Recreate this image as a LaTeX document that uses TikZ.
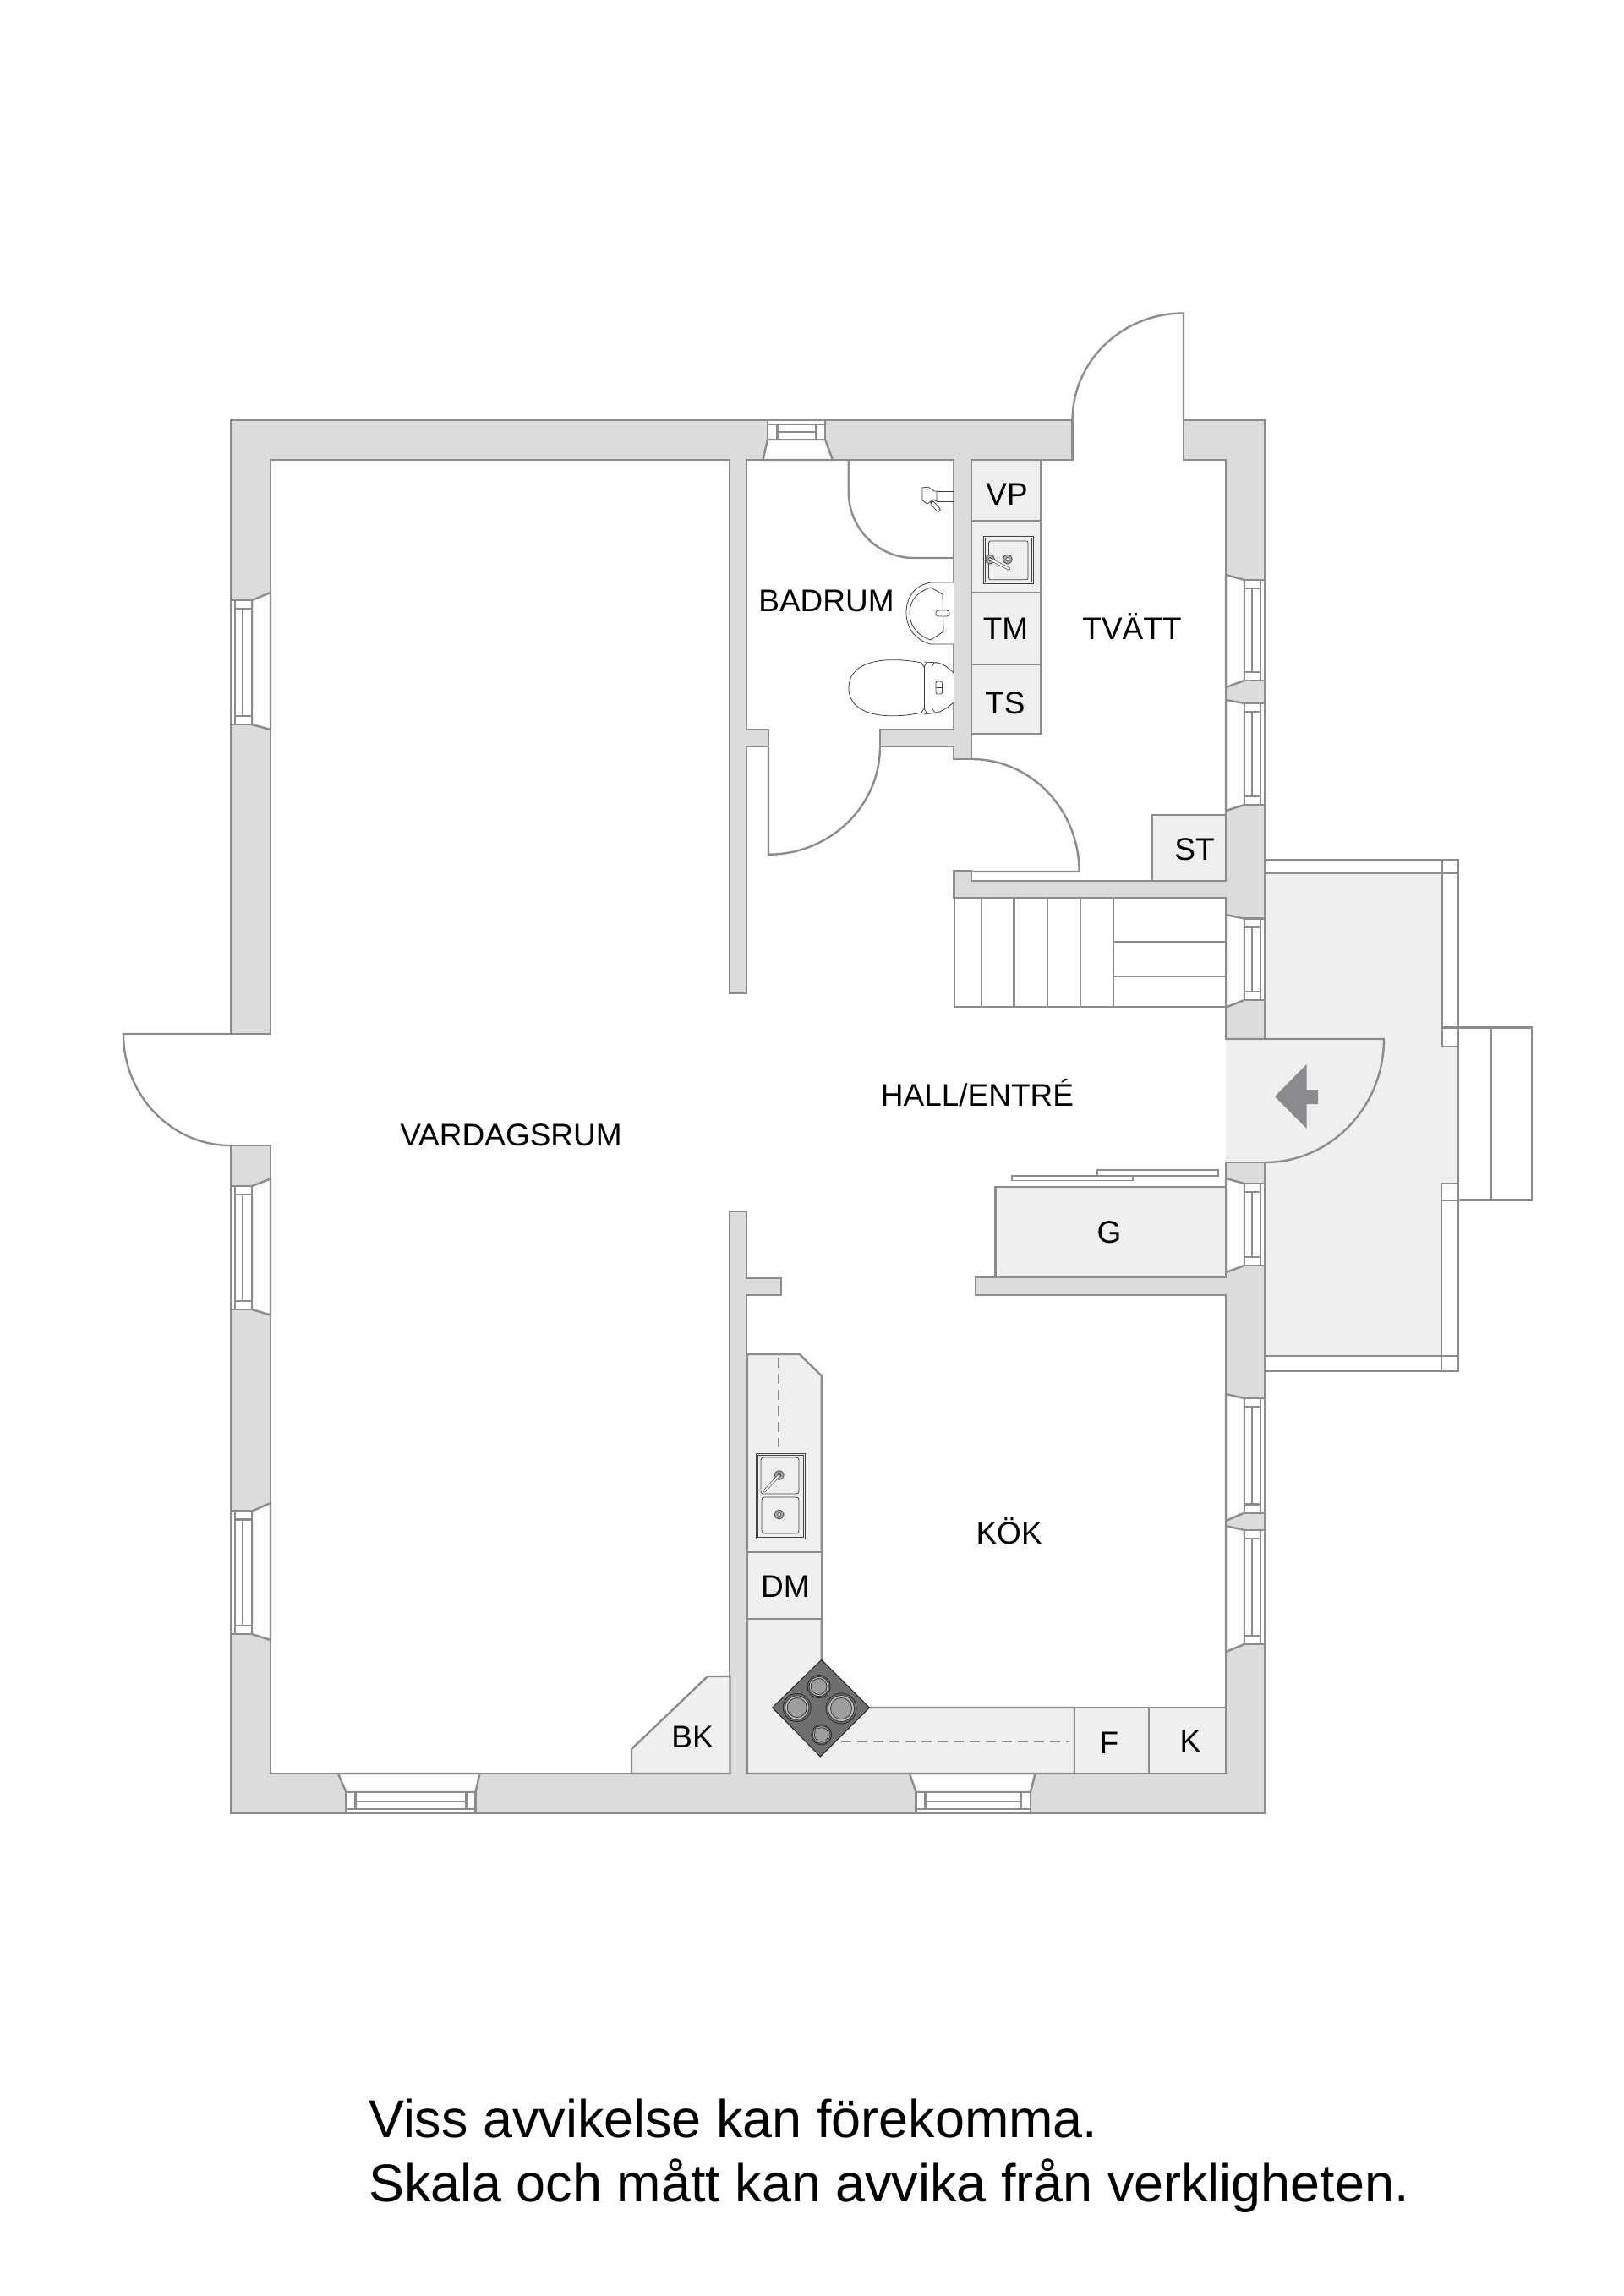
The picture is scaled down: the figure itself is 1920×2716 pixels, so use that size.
\documentclass[tikz,border=0pt]{standalone}
\usepackage{fontspec}
\setmainfont{Liberation Sans}
\definecolor{wallc}{HTML}{DCDCDC}
\definecolor{lightc}{HTML}{EFEFEF}
\definecolor{linec}{HTML}{8C8C8C}
\definecolor{arrowc}{HTML}{8A8A90}
\definecolor{hobc}{HTML}{6F6F6F}
\tikzset{
  wall/.style={fill=wallc,draw=linec,line width=2.6pt,line join=miter},
  unitbox/.style={fill=lightc,draw=linec,line width=2.4pt},
  opening/.style={fill=white,draw=linec,line width=2.4pt},
  plainline/.style={draw=linec,line width=2.4pt},
  doorline/.style={draw=linec,line width=2.4pt,line cap=round},
  fixture/.style={draw=black!75,line width=0.8pt,fill=white},
  dashline/.style={draw=linec,line width=2.6pt,dash pattern=on 12pt off 7pt},
  roomtext/.style={anchor=base,inner sep=0pt,font=\fontsize{37}{40}\selectfont,text=black},
  notetext/.style={anchor=base west,inner sep=0pt,font=\fontsize{62.9}{70}\selectfont,text=black}
}
\newcommand{\winL}[4]{%
  \path[opening] (320,#3)--(298,#1)--(298,#2)--(320,#4)--cycle;
  \path[opening] (273,#1) rectangle (298,#2);
  \path[plainline] (278,#1)--(278,#2);
  \path[plainline] (278,{#1+10}) rectangle (298,{#2-10});
  \path[plainline] (287,{#1+10})--(287,{#2-10});
}
\newcommand{\winR}[4]{%
  \path[opening] (1450,#3)--(1472,#1)--(1472,#2)--(1450,#4)--cycle;
  \path[opening] (1472,#1) rectangle (1496,#2);
  \path[plainline] (1491,#1)--(1491,#2);
  \path[plainline] (1472,{#1+10}) rectangle (1491,{#2-10});
  \path[plainline] (1481,{#1+10})--(1481,{#2-10});
}
\newcommand{\winB}[4]{%
  \path[opening] (#3,2098)--(#1,2120)--(#2,2120)--(#4,2098)--cycle;
  \path[opening] (#1,2120) rectangle (#2,2145);
  \path[plainline] (#1,2140)--(#2,2140);
  \path[plainline] ({#1+11},2120)--({#1+11},2140);
  \path[plainline] ({#2-11},2120)--({#2-11},2140);
  \path[plainline] ({#1+11},2131)--({#2-11},2131);
}
\newcommand{\burner}[3]{%
  \path[draw=black!80,line width=1pt,fill=hobc] (#1,#2) circle[radius=#3];
  \path[draw=black!80,line width=0.8pt,fill=black!25] (#1,#2) circle[radius={#3*0.86}];
  \path[draw=black!80,line width=0.8pt,fill=black!38] (#1,#2) circle[radius={#3*0.7}];
}
\newcommand{\drain}[2]{%
  \path[draw=black!70,line width=0.8pt,fill=black!35] (#1,#2) circle[radius=5.5];
  \path[draw=black!70,line width=0.7pt,fill=white] (#1,#2) circle[radius=2];
}
\begin{document}
\begin{tikzpicture}[x=1pt,y=-1pt]
\useasboundingbox[fill=white] (0,0) rectangle (1920,2716);

% --- deck and steps
\path[unitbox] (1496,1033)--(1706,1033)--(1706,1238)--(1725,1238)--(1725,1400)--(1705,1400)--(1705,1604)--(1496,1604)--cycle;
\path[opening] (1496,1017) rectangle (1725,1033);
\path[opening] (1706,1017) rectangle (1725,1215.6);
\path[plainline] (1706,1033)--(1725,1033);
\path[opening] (1706,1215.6) rectangle (1725,1238);
\path[opening] (1705,1400) rectangle (1725,1420);
\path[opening] (1705,1420) rectangle (1725,1622);
\path[opening] (1496,1604) rectangle (1725,1622);
\path[plainline] (1705,1604)--(1705,1622);
\path[opening] (1725,1215.6) rectangle (1812,1419.6);
\path[plainline] (1764,1215.6)--(1764,1419.6);

% --- walls
\path[wall] (273,1223)--(273,497)--(1268.6,497)--(1268.6,544)--(1149,544)--(1149,898)--(1128,898)--(1128,883)--(1041,883)--(1041,863)--(1128,863)--(1128,544)--(883,544)--(883,863)--(909,863)--(909,883)--(883,883)--(883,1175)--(863,1175)--(863,544)--(320,544)--(320,1223)--cycle;
\path[wall] (1400,497)--(1496,497)--(1496,1229)--(1450,1229)--(1450,1062)--(1128.7,1062)--(1128.7,1030)--(1149,1030)--(1149,1042)--(1450,1042)--(1450,544)--(1400,544)--cycle;
\path[wall] (1496,1375)--(1496,2145)--(273,2145)--(273,1355)--(320,1355)--(320,2098)--(863,2098)--(863,1433)--(883,1433)--(883,1512)--(924,1512)--(924,1532)--(883,1532)--(883,2098)--(1450,2098)--(1450,1532)--(1154,1532)--(1154,1511)--(1450,1511)--(1450,1375)--cycle;

% --- entrance threshold and door
\path[fill=lightc] (1450,1229) rectangle (1497,1375);
\path[doorline] (1450,1229)--(1637,1229) .. controls (1637,1309.6) and (1573.9,1375) .. (1496,1375);
\path[plainline] (1450,1375)--(1496,1375);
\path[fill=arrowc] (1508,1297)--(1545.5,1259)--(1545.5,1289)--(1559,1289)--(1559,1306)--(1545.5,1306)--(1545.5,1335)--cycle;

% --- other doors
\path[doorline] (1268.6,497) .. controls (1268.6,427.1) and (1327.4,370.5) .. (1400,370.5)--(1400,497);
\path[doorline] (909,883)--(909,1010.7) .. controls (981.9,1010.7) and (1041,953.5) .. (1041,883);
\path[doorline] (1149,898) .. controls (1219.5,898) and (1276.6,957.5) .. (1276.6,1031)--(1149,1031);
\path[doorline] (273,1223)--(146,1223) .. controls (146,1296) and (202.9,1355) .. (273,1355);
\path[doorline] (1003.8,544)--(1003.8,582) .. controls (1003.8,625) and (1038.4,660) .. (1081,660)--(1128,660);

% --- windows
\winL{710}{857}{701}{863}
\winL{1403}{1549}{1394.6}{1555.5}
\winL{1787.6}{1933}{1778}{1940}
\winR{686}{805}{680}{813}
\winR{832}{952}{828}{959}
\winR{1086.6}{1183}{1082}{1191.5}
\winR{1400}{1497}{1394}{1505}
\winR{1654}{1789.5}{1649}{1799}
\winR{1810}{1945}{1805}{1954}
\winB{409.4}{562.5}{400}{567.6}
\winB{1083.5}{1219}{1076}{1224.5}
\path[opening] (902.5,544)--(908,520)--(976,520)--(985,544)--cycle;
\path[opening] (908,497) rectangle (976,520);
\path[plainline] (908,502)--(976,502);
\path[plainline] (919.5,502)--(919.5,520);
\path[plainline] (965,502)--(965,520);
\path[plainline] (919.5,510.7)--(965,510.7);

% --- stairs
\path[opening] (1128.7,1062) rectangle (1450,1191);
\foreach \sx in {1160.8,1199.5,1238.8,1278,1317}{\path[plainline] (\sx,1062)--(\sx,1191);}
\path[plainline] (1317,1113.8)--(1450,1113.8);
\path[plainline] (1317,1155)--(1450,1155);

% --- laundry units
\path[unitbox] (1149,544) rectangle (1231.5,616.5);
\path[unitbox] (1149,616.5) rectangle (1231.5,701);
\path[unitbox] (1149,701) rectangle (1231.5,786);
\path[unitbox] (1149,786) rectangle (1231.5,868);
\path[unitbox] (1363,964) rectangle (1450,1042);
\path[fixture,fill=lightc] (1163.7,634.8) rectangle (1222.6,690);
\path[fixture,fill=lightc] (1165.5,636.5) rectangle (1220.8,688.3);
\path[fixture,fill=lightc,rounded corners=2pt] (1169.5,640) rectangle (1216,685.7);
\drain{1171}{661.6}
\drain{1191.8}{661.6}
\path[draw=black!70,line width=0.7pt,double=white,double distance=2pt,line cap=round] (1171,661.6)--(1193.6,672.8);

% --- wardrobe and sliding doors
\path[unitbox] (1177.5,1404) rectangle (1450,1511);
\path[fill=white,draw=linec,line width=1.8pt] (1197,1390.6) rectangle (1340,1396.4);
\path[fill=white,draw=linec,line width=1.8pt] (1297.6,1384) rectangle (1440.7,1390.6);

% --- kitchen
\path[unitbox] (884,1602)--(945.8,1602)--(971.7,1627.4)--(971.7,2020)--(1271,2020)--(1271,2098)--(884,2098)--cycle;
\path[unitbox] (884,1836) rectangle (971.7,1915);
\path[unitbox] (1271,2020) rectangle (1359,2098);
\path[unitbox] (1359,2020) rectangle (1450,2098);
\path[dashline] (920.8,1606)--(920.8,1712);
\path[dashline] (995,2060)--(1264,2060);
\path[fixture,fill=lightc] (894,1719) rectangle (952.5,1820);
\path[fixture,fill=lightc] (896,1721) rectangle (950.5,1818);
\path[fixture,fill=lightc,rounded corners=3pt] (900,1724) rectangle (945,1767);
\path[fixture,fill=lightc,rounded corners=3pt] (901,1771) rectangle (945,1814);
\drain{921.7}{1745}
\drain{921.7}{1791.5}
\path[draw=black!70,line width=0.7pt,double=white,double distance=2pt,line cap=round] (921.7,1745)--(904,1764);
\path[fill=hobc,draw=black!85,line width=1pt] (971.7,1963.4)--(1028.4,2020)--(970.4,2078)--(913.7,2020)--cycle;
\burner{968.6}{1995}{13.5}
\burner{942.7}{2020}{16.5}
\burner{995}{2021}{18}
\burner{971.7}{2052}{12}

% --- firewood box
\path[unitbox] (747,2098)--(747,2069)--(837,1983)--(863.5,1983)--(863.5,2098)--cycle;

% --- bathroom fixtures
\path[fixture] (1128,689)--(1101,689) .. controls (1080,693) and (1072,708) .. (1072,725) .. controls (1072,742) and (1082,757) .. (1101,762)--(1128,762);
\path[fixture] (1101,695)--(1115,703)--(1116,747)--(1101,757) .. controls (1085,752) and (1076,740) .. (1076,725) .. controls (1076,710) and (1085,700) .. (1101,695)--cycle;
\path[fixture,rounded corners=3pt] (1107,722) rectangle (1123,729);
\path[fixture] (1090,784) .. controls (1060,778) and (1004,776) .. (1004,814) .. controls (1004,851) and (1060,850) .. (1090,843);
\path[fixture] (1093,783)--(1110,784);
\path[fixture] (1093,845)--(1108,843);
\path[fixture] (1093,784)--(1093,844);
\path[fixture] (1090,784)--(1093,789)--(1096,784);
\path[fixture] (1090,843)--(1093,838)--(1096,843);
\path[fixture] (1128,796) .. controls (1118,786) and (1110,783) .. (1105,784)--(1102.5,788)--(1102.5,838)--(1106,843) .. controls (1112,843) and (1120,838) .. (1128,831);
\path[fixture,rounded corners=2pt] (1107,806) rectangle (1114.5,821);
\path[fixture] (1107,813.5)--(1114.5,813.5);
\path[fixture] (1108,581)--(1128,581);
\path[fixture] (1108,593)--(1128,593);
\path[draw=black!75,line width=0.9pt,double=white,double distance=3.5pt,line cap=round] (1103,595)--(1110,603);
\path[fixture] (1091,577)--(1098,576)--(1105,581)--(1108,581)--(1108,593)--(1104,591)--(1097,596)--(1091,592)--cycle;

% --- labels
\node[roomtext] (vp) at (1191,597) {VP};
\node[roomtext] (tm) at (1189.5,756) {TM};
\node[roomtext] (ts) at (1189,844) {TS};
\node[roomtext] (badrum) at (977.5,723) {BADRUM};
\node[roomtext] (tvatt) at (1339,756) {TVÄTT};
\node[roomtext] (st) at (1413,1017) {ST};
\node[roomtext] (hall) at (1156,1308.5) {HALL/ENTRÉ};
\node[roomtext] (vardag) at (604.5,1355) {VARDAGSRUM};
\node[roomtext] (g) at (1312,1470) {G};
\node[roomtext] (kok) at (1193.6,1826) {KÖK};
\node[roomtext] (dm) at (929,1889) {DM};
\node[roomtext] (bk) at (819,2067) {BK};
\node[roomtext] (f) at (1312,2074) {F};
\node[roomtext] (k) at (1408,2072) {K};
\node[notetext] (note1) at (436,2528) {Viss avvikelse kan förekomma.};
\node[notetext] (note2) at (436,2604) {Skala och mått kan avvika från verkligheten.};
\end{tikzpicture}
\end{document}
